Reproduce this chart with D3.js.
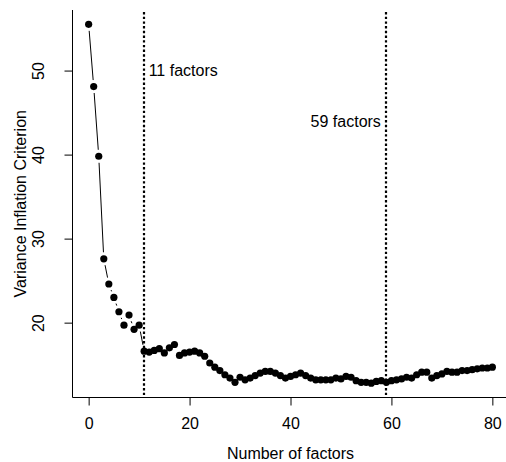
<!DOCTYPE html>
<html>
<head>
<meta charset="utf-8">
<script src="https://cdn.jsdelivr.net/npm/d3@7"></script>
<style>
  body { margin: 0; background: #fff; }
  svg text { font-family: "Liberation Sans", Arial, sans-serif; font-size: 16px; fill: #000; }
</style>
</head>
<body>
<svg id="chart" width="506" height="462"></svg>
<script>
// number of factors 0..80 and the criterion
let factors = d3.range(0, 81);
let vic = [
  55.5, 48.1, 39.8, 27.6, 24.6, 23.0, 21.3, 19.7, 20.9, 19.2,
  19.7, 16.6, 16.5, 16.7, 16.9, 16.4, 17.0, 17.4, 16.1, 16.4,
  16.5, 16.6, 16.4, 16.0, 15.2, 14.7, 14.3, 13.8, 13.4, 12.9,
  13.5, 13.2, 13.4, 13.7, 14.0, 14.2, 14.2, 14.0, 13.7, 13.4,
  13.6, 13.8, 14.0, 13.7, 13.4, 13.2, 13.2, 13.2, 13.2, 13.4,
  13.3, 13.6, 13.5, 13.1, 12.9, 12.9, 12.8, 13.0, 13.1, 12.9,
  13.1, 13.2, 13.3, 13.5, 13.4, 13.8, 14.1, 14.1, 13.4, 13.7,
  13.9, 14.2, 14.1, 14.1, 14.3, 14.3, 14.4, 14.5, 14.6, 14.6,
  14.7
];
let cutoffs = [11, 59];
let cutoffLabels = ["11 factors", "59 factors"];
let cutoffLabelY = [50, 44];
let xTicks = [0, 20, 40, 60, 80];
let yTicks = [20, 30, 40, 50];

let svg = d3.select("#chart"),
    plotLeft = 72.5, plotRight = 508.5,
    plotTop = 10, plotBottom = 397.5;

// R style 4% padding on both axes
let xr = d3.extent(factors), yr = d3.extent(vic);
let xPad = (xr[1] - xr[0]) * 0.04, yPad = (yr[1] - yr[0]) * 0.04;

let xScale = d3.scaleLinear().domain([xr[0] - xPad, xr[1] + xPad]).range([plotLeft, plotRight]),
    yScale = d3.scaleLinear().domain([yr[0] - yPad, yr[1] + yPad]).range([plotBottom, plotTop]);

// L shaped box
svg.append("path")
    .attr("d", `M${plotLeft},${plotTop}V${plotBottom}H${plotRight}`)
    .attr("fill", "none")
    .attr("stroke", "#000")
    .attr("stroke-width", 1);

let xAxis = svg.append("g")
    .attr("transform", `translate(0, ${plotBottom})`)
    .call(d3.axisBottom(xScale).tickValues(xTicks).tickSize(8).tickPadding(12).tickFormat(d3.format("d")));
xAxis.select(".domain").remove();

let yAxis = svg.append("g")
    .attr("transform", `translate(${plotLeft}, 0)`)
    .call(d3.axisLeft(yScale).tickValues(yTicks).tickSize(8).tickFormat(d3.format("d")));
yAxis.select(".domain").remove();
yAxis.selectAll("text")
    .attr("x", null)
    .attr("dy", null)
    .attr("text-anchor", "middle")
    .attr("transform", "translate(-28.5, 0) rotate(-90)");

svg.selectAll(".tick line").attr("stroke", "#000");
svg.selectAll("g").attr("font-size", null).attr("font-family", null);

// axis titles
svg.append("text")
    .attr("x", (plotLeft + plotRight) / 2)
    .attr("y", 459)
    .attr("text-anchor", "middle")
    .text("Number of factors");

svg.append("text")
    .attr("transform", `translate(26, ${(plotTop + plotBottom) / 2}) rotate(-90)`)
    .attr("text-anchor", "middle")
    .text("Variance Inflation Criterion");

// dotted cut-off lines
svg.append("g")
    .selectAll("line")
    .data(cutoffs)
    .enter()
    .append("line")
    .attr("x1", d => Math.round(xScale(d)))
    .attr("x2", d => Math.round(xScale(d)))
    .attr("y1", plotTop + 2)
    .attr("y2", plotBottom)
    .attr("stroke", "#000")
    .attr("stroke-width", 2.2)
    .attr("stroke-dasharray", "2.4,2.3");

svg.append("g")
    .selectAll("text")
    .data(cutoffs)
    .enter()
    .append("text")
    .attr("x", (d, i) => i == 0 ? xScale(d) + 4.5 : xScale(d) - 5.5)
    .attr("y", (d, i) => yScale(cutoffLabelY[i]))
    .attr("dy", "0.36em")
    .attr("text-anchor", (d, i) => i == 0 ? "start" : "end")
    .text((d, i) => cutoffLabels[i]);

// type = "b": segments with gaps around the points
let pts = factors.map((f, i) => [xScale(f), yScale(vic[i])]);
let gap = 6.5;
let segs = [];
for (let i = 0; i < pts.length - 1; i++) {
    let dx = pts[i + 1][0] - pts[i][0], dy = pts[i + 1][1] - pts[i][1];
    let len = Math.sqrt(dx * dx + dy * dy);
    if (len > 2 * gap + 1) {
        let ux = dx / len, uy = dy / len;
        segs.push([pts[i][0] + ux * gap, pts[i][1] + uy * gap,
                   pts[i + 1][0] - ux * gap, pts[i + 1][1] - uy * gap]);
    }
}
svg.append("g")
    .selectAll("line")
    .data(segs)
    .enter()
    .append("line")
    .attr("x1", d => d[0]).attr("y1", d => d[1])
    .attr("x2", d => d[2]).attr("y2", d => d[3])
    .attr("stroke", "#000")
    .attr("stroke-width", 1);

svg.append("g")
    .selectAll("circle")
    .data(factors)
    .enter()
    .append("circle")
    .attr("cx", d => xScale(d))
    .attr("cy", (d, i) => yScale(vic[i]))
    .attr("r", 3.6)
    .attr("fill", "#000");
</script>
</body>
</html>
